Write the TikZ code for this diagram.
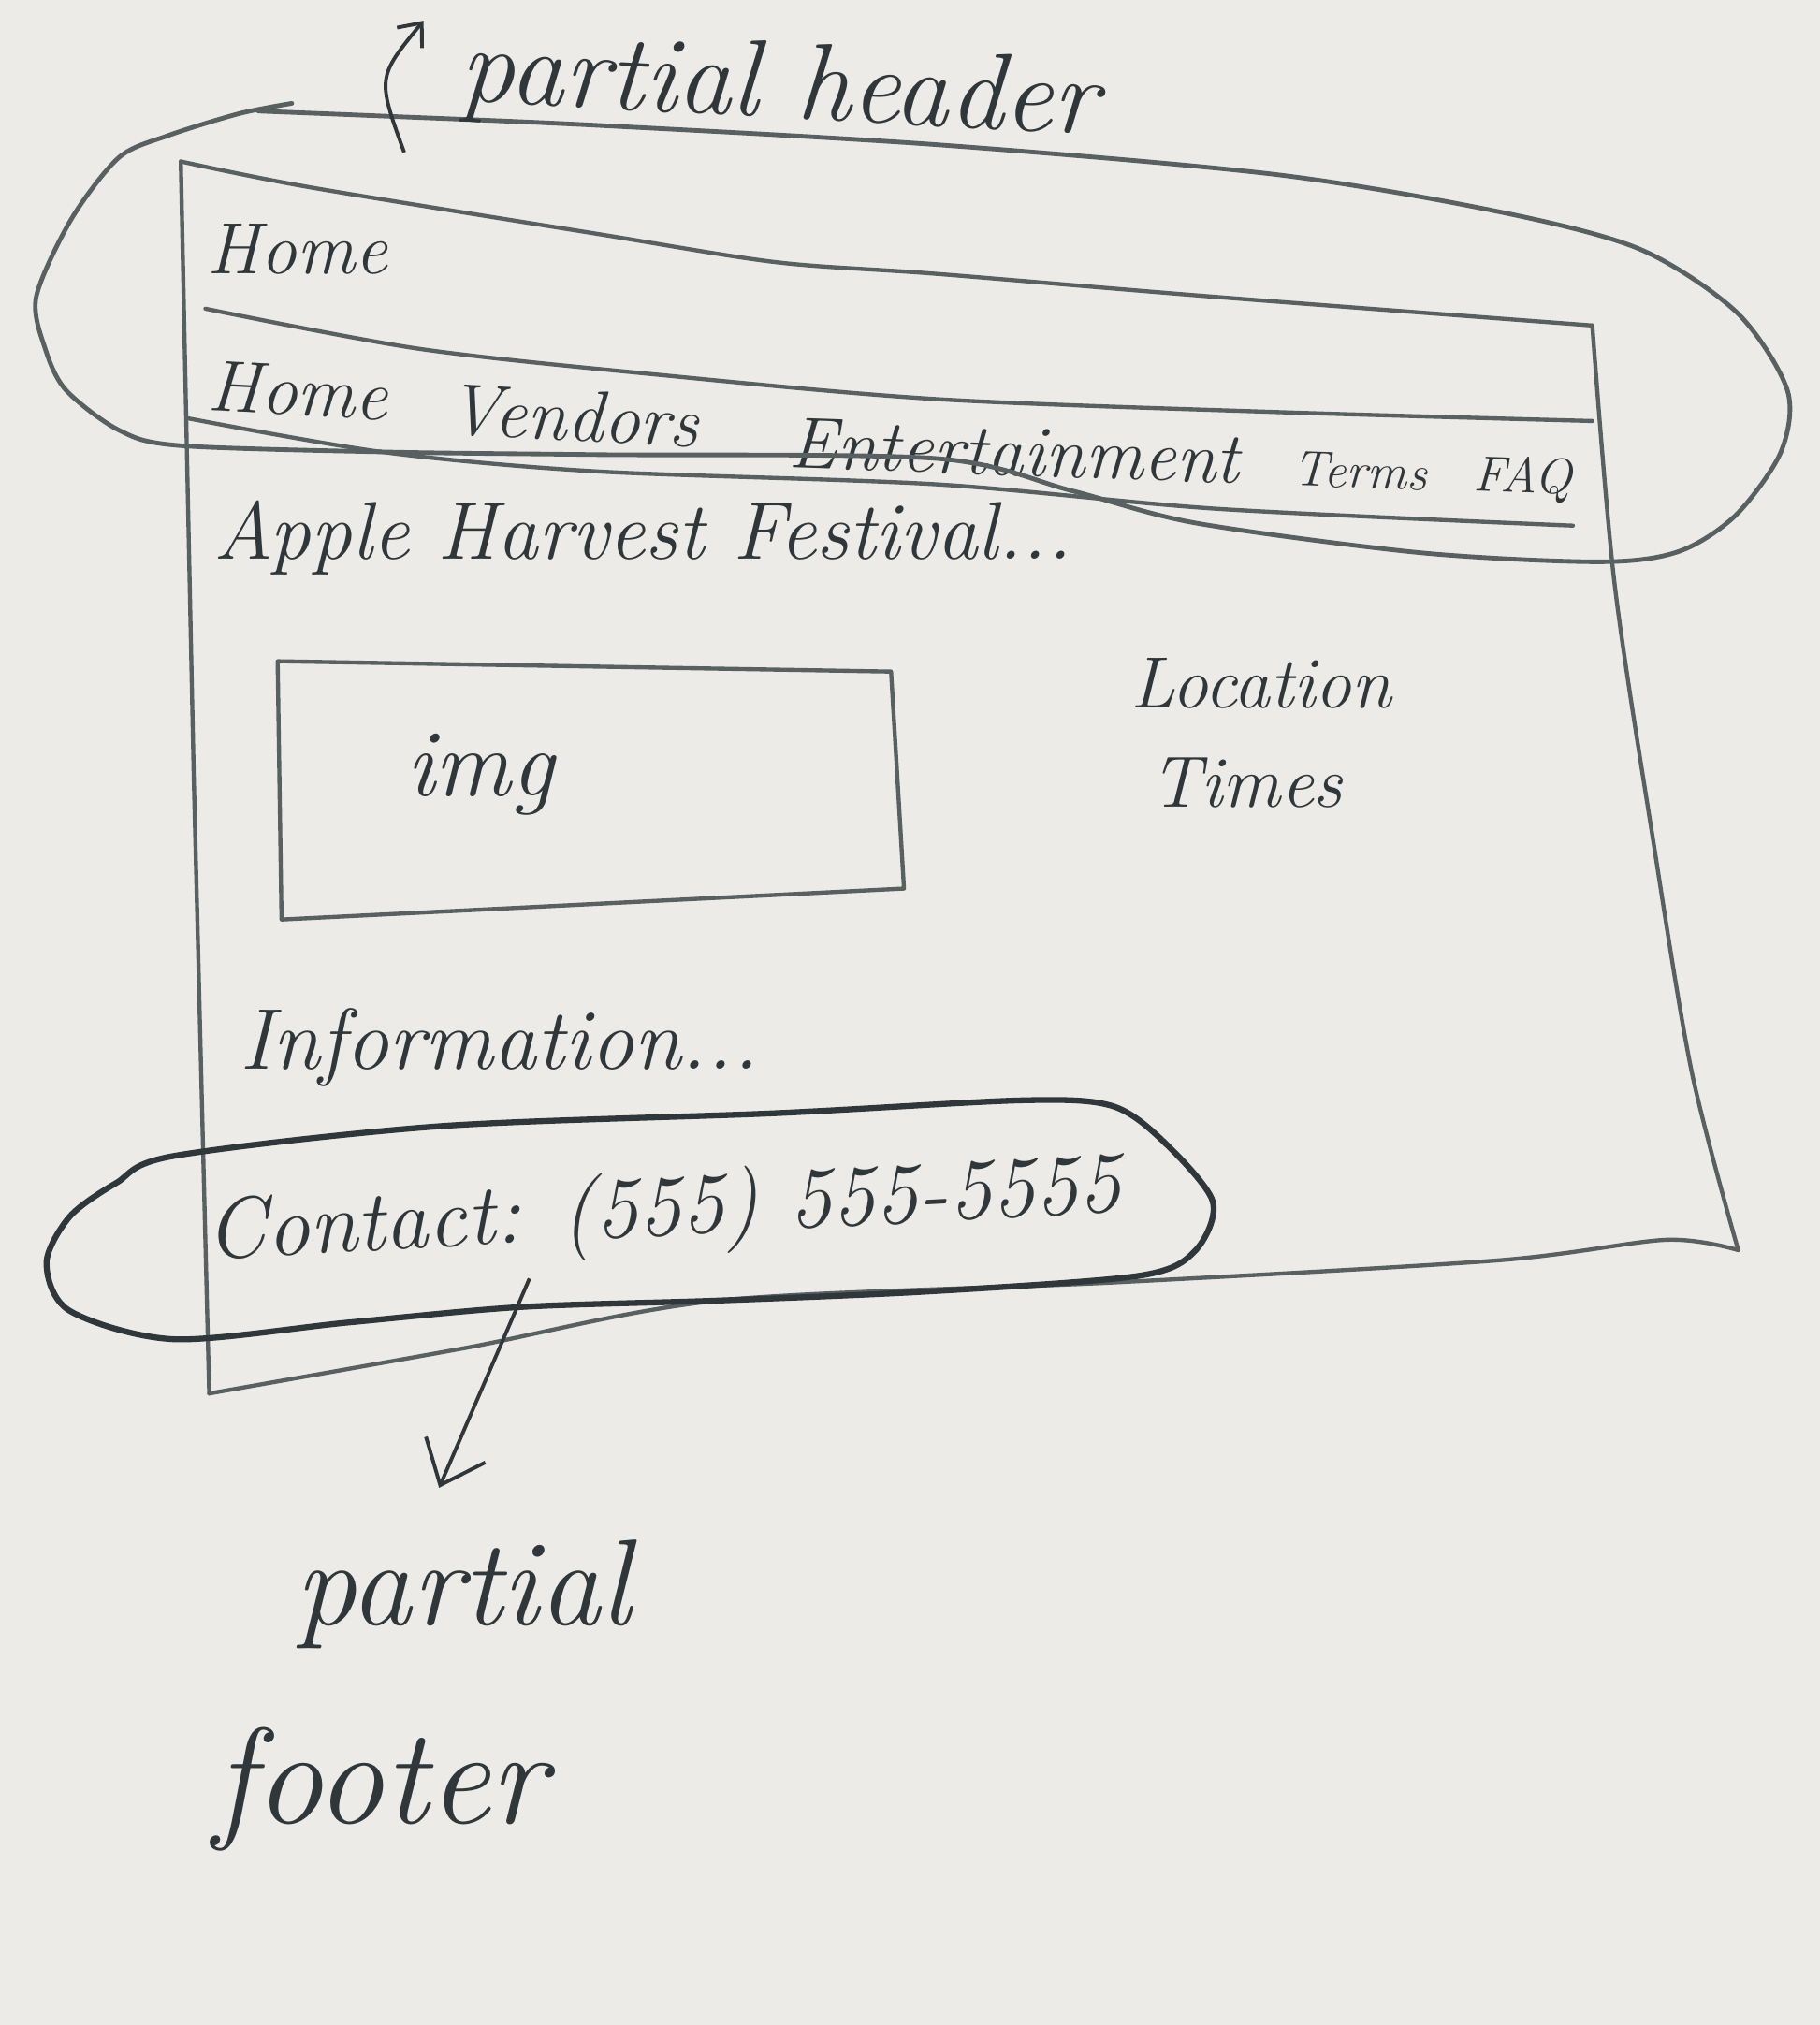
\documentclass[tikz,border=0pt]{standalone}
\usepackage{fontspec}
\usepackage{tikz}
\usetikzlibrary{positioning,arrows.meta}
\definecolor{paper}{RGB}{236,235,231}
\definecolor{pencil}{RGB}{48,55,58}
\definecolor{graphite}{RGB}{88,96,98}
\tikzset{>={Straight Barb[length=3mm,width=5mm]}}
\tikzset{
  frame/.style={draw=graphite,line width=0.9pt,line cap=round,line join=round},
  lasso/.style={draw=pencil,line width=1pt,line cap=round},
  hand/.style={text=pencil,inner sep=0pt,font=\itshape},
  arw/.style={draw=pencil,line width=0.8pt,->},
}
\newcommand{\fsz}[1]{\fontsize{#1}{#1}\selectfont}

\begin{document}
\begin{tikzpicture}[x=0.01cm,y=-0.01cm]
    \fill[paper] (0,0) rectangle (1409,1568);
    \useasboundingbox (0,0) rectangle (1409,1568);

    % page outline
    \draw[frame] plot[smooth] coordinates {(140,125) (240,145) (462,181) (601,203) (725,212) (943,230) (1233,252)};
    \draw[frame] plot[smooth] coordinates {(1233,252) (1250,450) (1280,650) (1310,830) (1346,968)};
    \draw[frame] plot[smooth] coordinates {(1346,968) (1290,960) (1159,976) (863,993) (557,1007) (359,1044) (162,1079)};
    \draw[frame] (162,1079) -- (150,600) -- (140,125);

    % nav bar
    \draw[frame] plot[smooth] coordinates {(159,239) (324,270) (508,290) (725,309) (987,319) (1233,326)};
    \draw[frame] plot[smooth] coordinates {(146,324) (296,350) (462,365) (725,375) (943,394) (1218,407)};

    \node[hand,anchor=base west] (home) at (160,212) {\fsz{16}Home};
    \node[hand,anchor=base west,rotate=-3] (navhome) at (160,318) {\fsz{16}Home};
    \node[hand,anchor=base west,rotate=-3] (vendors) at (345,336) {\fsz{16}Vendors};
    \node[hand,anchor=base west,rotate=-2] (entertain) at (610,362) {\fsz{16}Entertainment};
    \node[hand,anchor=base west,rotate=-2] (terms) at (1000,376) {\fsz{11}Terms};
    \node[hand,anchor=base west,rotate=-2] (faq) at (1140,380) {\fsz{11}FAQ};

    \node[hand,anchor=base west] (title) at (165,433) {\fsz{18}Apple Harvest Festival...};

    % image box
    \draw[frame] (215,512) -- (690,520) -- (700,688) -- (218,712) -- cycle;
    \node[hand] (img) at (372,600) {\fsz{21}img};

    \node[hand,anchor=base west] (location) at (875,548) {\fsz{16}Location};
    \node[hand,anchor=base west] (times) at (890,625) {\fsz{16}Times};

    \node[hand,anchor=base west] (info) at (185,828) {\fsz{19}Information...};

    \node[hand,anchor=base west,rotate=3] (contact) at (160,975) {\fsz{19}Contact: (555) 555-5555};

    % header lasso
    \draw[lasso,draw=graphite] plot[smooth] coordinates {(226,80) (185,88) (130,105) (92,122) (55,170) (28,230) (35,270) (51,302) (92,333) (139,345) (300,350) (462,352) (725,355) (830,380) (926,405) (1100,428) (1239,435) (1300,427) (1344,399) (1379,350) (1384,302) (1345,242) (1270,193) (1161,164) (987,135) (725,112) (462,97) (300,90) (200,86)};

    % footer lasso
    \draw[lasso,line width=1.3pt] plot[smooth cycle] coordinates {(135,895) (341,872) (600,862) (791,852) (860,856) (899,882) (939,930) (925,969) (881,988) (719,1000) (557,1007) (404,1012) (270,1024) (135,1037) (54,1015) (36,978) (54,942) (90,916)};

    % labels
    \node[hand,anchor=base west,rotate=-3] (hdrlbl) at (355,78) {\fsz{24}partial header};
    \node[hand,anchor=base west] (ftrlbl) at (228,1258) {\fsz{27}partial};
    \node[hand,anchor=base west] (ftrlbl2) at (165,1412) {\fsz{30}footer};

    \coordinate (hdtail) at (313,118);
    \coordinate (hdtip) at (328,16);
    \draw[arw,>={Straight Barb[length=1.5mm,width=2.5mm]}] (hdtail) .. controls (292,60) .. (hdtip);

    \coordinate (fttail) at (410,990);
    \coordinate (fttip) at (340,1152);
    \draw[arw] (fttail) -- (fttip);
\end{tikzpicture}
\end{document}
